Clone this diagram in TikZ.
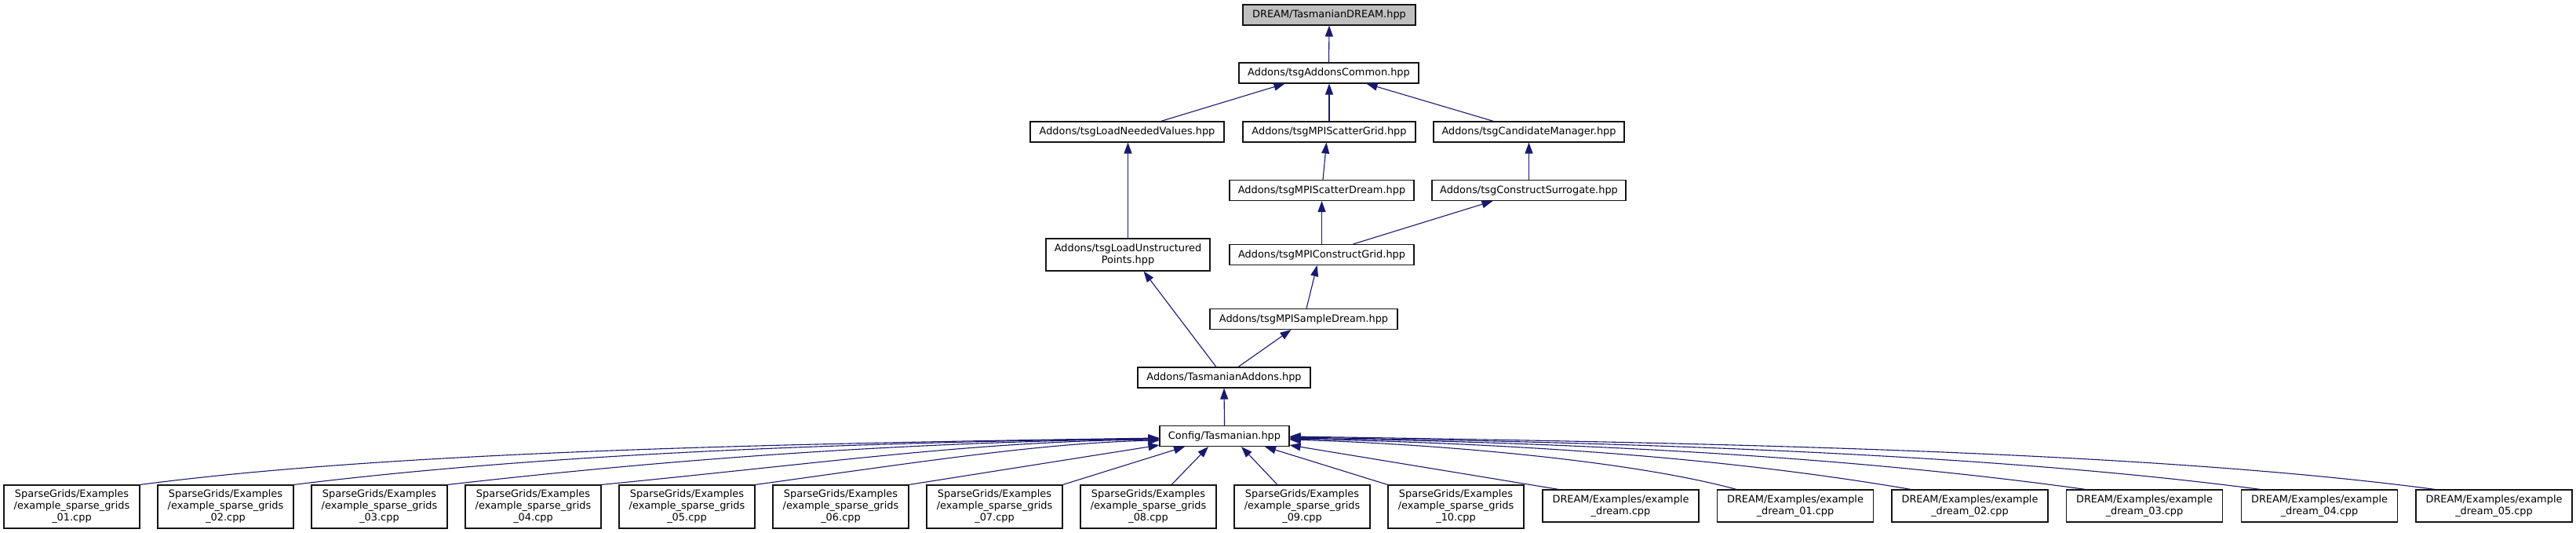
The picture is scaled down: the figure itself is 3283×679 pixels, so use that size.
\documentclass[tikz,border=0pt]{standalone}
\usepackage{fontspec}
\setmainfont{DejaVu Sans}
\usepackage{tikz}
\usetikzlibrary{arrows.meta, calc}
\definecolor{myblue}{RGB}{25,25,112}
\definecolor{mygray}{RGB}{191,191,191}
\definecolor{mydark}{RGB}{20,20,20}
\tikzset{
  filebox/.style={rectangle, draw=mydark, fill=white, inner sep=0pt, align=center, minimum height=26pt, font=\fontsize{12.9}{15}\selectfont, line width=1.1pt},
  rootbox/.style={filebox, fill=mygray},
  srcbox/.style={filebox, minimum width=173pt, minimum height=55pt},
  dreambox/.style={filebox, minimum width=199pt, minimum height=41pt},
  arrow/.style={-{Triangle[length=14pt, width=10pt]}, line width=1.1pt, color=myblue}
}

\begin{document}
\begin{tikzpicture}[x=1pt, y=-1pt]
  \fill[white] (0,0) rectangle (3283,679);
  \useasboundingbox (0,0) rectangle (3283,679);

  % Headers
  \node[rootbox, minimum width=220pt] (root) at (1694,19) {DREAM/TasmanianDREAM.hpp};
  \node[filebox, minimum width=229pt] (common) at (1693.5,93) {Addons/tsgAddonsCommon.hpp};
  \node[filebox, minimum width=247pt] (needed) at (1436.5,168) {Addons/tsgLoadNeededValues.hpp};
  \node[filebox, minimum width=220pt] (scgrid) at (1694,168) {Addons/tsgMPIScatterGrid.hpp};
  \node[filebox, minimum width=243pt] (cand) at (1948.5,168) {Addons/tsgCandidateManager.hpp};
  \node[filebox, minimum width=235pt] (scdream) at (1684.5,242.5) {Addons/tsgMPIScatterDream.hpp};
  \node[filebox, minimum width=247pt] (surr) at (1948.5,242.5) {Addons/tsgConstructSurrogate.hpp};
  \node[filebox, minimum width=209pt, minimum height=41pt] (unstr) at (1437.5,324.5) {Addons/tsgLoadUnstructured\\Points.hpp};
  \node[filebox, minimum width=235pt] (cgrid) at (1684.5,324.5) {Addons/tsgMPIConstructGrid.hpp};
  \node[filebox, minimum width=239pt] (sdream) at (1661.5,406.5) {Addons/tsgMPISampleDream.hpp};
  \node[filebox, minimum width=220pt] (addons) at (1560,481) {Addons/TasmanianAddons.hpp};
  \node[filebox, minimum width=165pt] (cfg) at (1560.5,555.5) {Config/Tasmanian.hpp};

  % Examples
  \node[srcbox] (sg01) at (91.5,645.5) {SparseGrids/Examples\\/example\_sparse\_grids\\\_01.cpp};
  \node[srcbox] (sg02) at (287.5,645.5) {SparseGrids/Examples\\/example\_sparse\_grids\\\_02.cpp};
  \node[srcbox] (sg03) at (483.5,645.5) {SparseGrids/Examples\\/example\_sparse\_grids\\\_03.cpp};
  \node[srcbox] (sg04) at (679.5,645.5) {SparseGrids/Examples\\/example\_sparse\_grids\\\_04.cpp};
  \node[srcbox] (sg05) at (875.5,645.5) {SparseGrids/Examples\\/example\_sparse\_grids\\\_05.cpp};
  \node[srcbox] (sg06) at (1071.5,645.5) {SparseGrids/Examples\\/example\_sparse\_grids\\\_06.cpp};
  \node[srcbox] (sg07) at (1267.5,645.5) {SparseGrids/Examples\\/example\_sparse\_grids\\\_07.cpp};
  \node[srcbox] (sg08) at (1463.5,645.5) {SparseGrids/Examples\\/example\_sparse\_grids\\\_08.cpp};
  \node[srcbox] (sg09) at (1659.5,645.5) {SparseGrids/Examples\\/example\_sparse\_grids\\\_09.cpp};
  \node[srcbox] (sg10) at (1855.5,645.5) {SparseGrids/Examples\\/example\_sparse\_grids\\\_10.cpp};
  \node[dreambox] (dr0) at (2065.5,644.5) {DREAM/Examples/example\\\_dream.cpp};
  \node[dreambox] (dr1) at (2288,644.5) {DREAM/Examples/example\\\_dream\_01.cpp};
  \node[dreambox] (dr2) at (2510.5,644.5) {DREAM/Examples/example\\\_dream\_02.cpp};
  \node[dreambox] (dr3) at (2733,644.5) {DREAM/Examples/example\\\_dream\_03.cpp};
  \node[dreambox] (dr4) at (2956,644.5) {DREAM/Examples/example\\\_dream\_04.cpp};
  \node[dreambox] (dr5) at (3178.5,644.5) {DREAM/Examples/example\\\_dream\_05.cpp};

  % Upper edges
  \draw[arrow] (common.north) -- (root.south);
  \draw[arrow] ($(needed.north)+(43,0)$) -- ($(common.south)+(-56,0)$);
  \draw[arrow] (scgrid.north) -- (scgrid.north |- common.south);
  \draw[arrow] ($(cand.north)+(-45,0)$) -- ($(common.south)+(48,0)$);
  \draw[arrow] (unstr.north) -- (unstr.north |- needed.south);
  \draw[arrow] ($(scdream.north)+(1.5,0)$) -- ($(scgrid.south)+(-3.5,0)$);
  \draw[arrow] (surr.north) -- (cand.south);
  \draw[arrow] (cgrid.north) -- (scdream.south);
  \draw[arrow] ($(cgrid.north)+(40,0)$) -- ($(surr.south)+(-46,0)$);
  \draw[arrow] ($(sdream.north)+(3.5,0)$) -- ($(cgrid.south)+(-6,0)$);
  \draw[arrow] ($(addons.north)+(-10,0)$) -- ($(unstr.south)+(20,0)$);
  \draw[arrow] ($(addons.north)+(18,0)$) -- ($(sdream.south)+(-16,0)$);
  \draw[arrow] (cfg.north) -- (addons.south);

  % Fan into Config
  \draw[arrow] (sg01.north east) .. controls (503,575) and (997,565) .. ($(cfg.west)+(0,2.5)$);
  \draw[arrow] (sg02.north east) .. controls (694,578) and (1078,564) .. ($(cfg.west)+(0,3)$);
  \draw[arrow] (sg03.north east) .. controls (880,582) and (1178,563) .. ($(cfg.west)+(0,3.5)$);
  \draw[arrow] (sg04.north east) .. controls (1066,588) and (1248,562) .. ($(cfg.west)+(0,4.5)$);
  \draw[arrow] (sg05.north east) .. controls (1162,590) and (1328,564) .. ($(cfg.west)+(0,5.5)$);
  \draw[arrow] (sg06.north east) -- ($(cfg.south west)+(0,-2)$);
  \draw[arrow] (sg07.north east) -- ($(cfg.south)+(-50.5,0)$);
  \draw[arrow] ($(sg08.north)+(29.5,0)$) -- ($(cfg.south)+(-20.5,0)$);
  \draw[arrow] ($(sg09.north)+(-31.5,0)$) -- ($(cfg.south)+(21.5,0)$);
  \draw[arrow] (sg10.north west) -- ($(cfg.south)+(51.5,0)$);
  \draw[arrow] ($(dr0.north west)+(21,0)$) -- ($(cfg.south east)+(0,-2)$);
  \draw[arrow] ($(dr1.north west)+(25,0)$) .. controls (2083,588) and (1843,566) .. ($(cfg.east)+(0,4.5)$);
  \draw[arrow] ($(dr2.north west)+(25,0)$) .. controls (2205,584) and (1943,565) .. ($(cfg.east)+(0,3.5)$);
  \draw[arrow] ($(dr3.north west)+(25,0)$) .. controls (2359,582) and (2023,564) .. ($(cfg.east)+(0,2.5)$);
  \draw[arrow] ($(dr4.north west)+(25,0)$) .. controls (2542,579) and (2103,564) .. ($(cfg.east)+(0,1.5)$);
  \draw[arrow] ($(dr5.north west)+(25,0)$) .. controls (2738,575) and (2184,564) .. ($(cfg.east)+(0,0.5)$);
\end{tikzpicture}
\end{document}
